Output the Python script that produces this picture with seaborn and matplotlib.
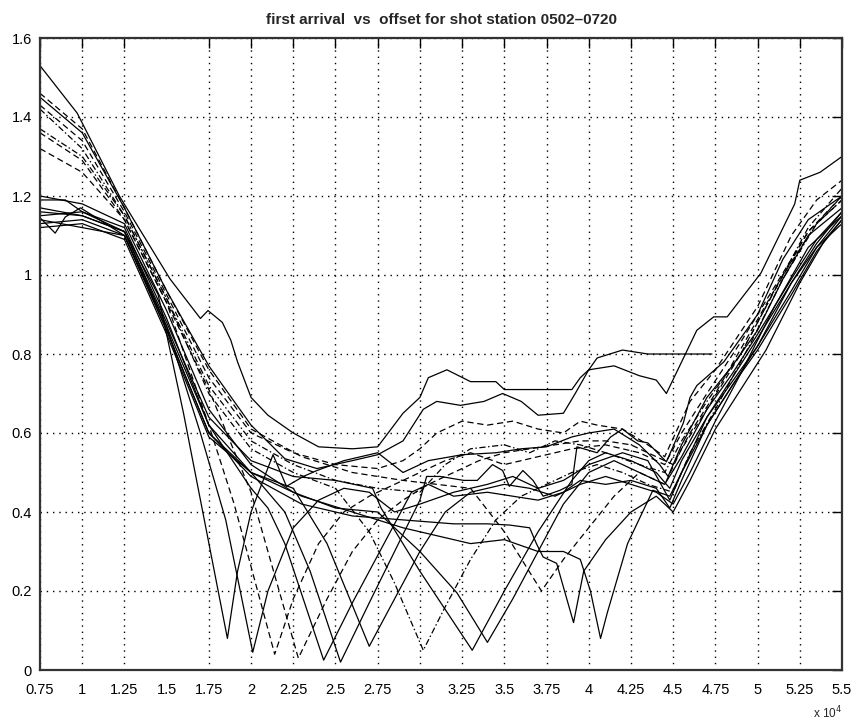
import pandas as pd
import matplotlib
matplotlib.use('Agg')
import matplotlib.pyplot as plt
import seaborn as sns

# first-arrival picks, offset in units of 1e4, time in s
shot_01 = [(0.75, 1.53), (0.97, 1.41), (1.22, 1.20), (1.52, 0.99), (1.70, 0.89), (1.745, 0.91), (1.83, 0.88),
           (1.88, 0.835), (1.92, 0.78), (2.0, 0.69), (2.1, 0.645), (2.25, 0.60), (2.4, 0.565), (2.6, 0.56),
           (2.75, 0.565), (2.9, 0.65), (3.0, 0.69), (3.05, 0.74), (3.16, 0.76), (3.3, 0.73), (3.45, 0.73),
           (3.5, 0.71), (3.9, 0.71), (3.95, 0.74), (4.0, 0.76), (4.05, 0.79), (4.2, 0.81), (4.35, 0.80),
           (4.55, 0.80), (4.73, 0.80)]
shot_02 = [(0.75, 1.45), (1.0, 1.36), (1.25, 1.17), (1.5, 0.96), (1.75, 0.77), (2.0, 0.62), (2.2, 0.535),
           (2.39, 0.51), (2.6, 0.53), (2.75, 0.545), (2.9, 0.58), (3.02, 0.66), (3.1, 0.68), (3.24, 0.67),
           (3.38, 0.68), (3.49, 0.70), (3.6, 0.68), (3.7, 0.645), (3.85, 0.65), (3.92, 0.70), (4.0, 0.76),
           (4.15, 0.77), (4.3, 0.745), (4.40, 0.734), (4.46, 0.70), (4.64, 0.86), (4.74, 0.894), (4.82, 0.894),
           (5.02, 1.005), (5.22, 1.18), (5.25, 1.24), (5.37, 1.26), (5.5, 1.30)]
shot_03 = [(0.75, 1.43), (1.0, 1.34), (1.25, 1.16), (1.5, 0.95), (1.75, 0.74), (2.0, 0.60), (2.25, 0.55),
           (2.5, 0.52), (2.75, 0.51), (2.9, 0.53), (3.0, 0.56), (3.1, 0.60), (3.25, 0.63), (3.4, 0.62),
           (3.55, 0.63), (3.7, 0.61), (3.85, 0.60), (3.95, 0.63), (4.05, 0.62), (4.2, 0.61), (4.35, 0.57),
           (4.45, 0.54), (4.6, 0.68), (4.75, 0.76), (5.0, 0.92), (5.2, 1.10), (5.35, 1.19), (5.5, 1.24)]
shot_04 = [(0.75, 1.37), (1.0, 1.30), (1.25, 1.15), (1.5, 0.94), (1.75, 0.72), (2.0, 0.58), (2.25, 0.52),
           (2.5, 0.48), (2.75, 0.46), (3.0, 0.45), (3.15, 0.52), (3.3, 0.56), (3.5, 0.57), (3.65, 0.55),
           (3.8, 0.58), (3.95, 0.57), (4.1, 0.55), (4.3, 0.52), (4.45, 0.50), (4.55, 0.58), (4.7, 0.68),
           (4.9, 0.80), (5.1, 0.96), (5.3, 1.12), (5.5, 1.22)]
shot_05 = [(0.75, 1.19), (0.9, 1.19), (1.0, 1.16), (1.25, 1.11), (1.45, 0.95), (1.6, 0.65), (1.86, 0.08),
           (1.92, 0.25), (2.0, 0.40), (2.13, 0.545), (2.21, 0.465), (2.31, 0.49), (2.39, 0.505), (2.55, 0.53),
           (2.75, 0.55), (2.9, 0.50), (3.05, 0.53), (3.25, 0.545), (3.45, 0.55), (3.6, 0.56), (3.75, 0.565),
           (3.9, 0.59), (4.0, 0.60), (4.15, 0.61), (4.3, 0.57), (4.42, 0.52), (4.47, 0.49), (4.55, 0.57),
           (4.7, 0.69), (4.85, 0.77), (5.0, 0.86), (5.15, 0.99), (5.3, 1.10), (5.5, 1.17)]
shot_06 = [(0.75, 1.145), (0.84, 1.106), (0.9, 1.147), (0.99, 1.17), (1.25, 1.10), (1.5, 0.87), (1.7, 0.60),
           (1.85, 0.38), (2.01, 0.045), (2.1, 0.20), (2.25, 0.36), (2.4, 0.43), (2.55, 0.46), (2.7, 0.45),
           (2.85, 0.40), (3.0, 0.42), (3.2, 0.45), (3.4, 0.47), (3.55, 0.49), (3.7, 0.46), (3.85, 0.48),
           (4.0, 0.52), (4.2, 0.55), (4.35, 0.53), (4.48, 0.43), (4.55, 0.50), (4.7, 0.64), (4.85, 0.74),
           (5.0, 0.84), (5.2, 0.98), (5.35, 1.08), (5.5, 1.16)]
shot_07 = [(0.75, 1.32), (1.0, 1.26), (1.25, 1.14), (1.5, 0.93), (1.75, 0.62), (1.9, 0.42), (2.14, 0.04),
           (2.25, 0.18), (2.4, 0.32), (2.55, 0.40), (2.7, 0.44), (2.85, 0.47), (3.0, 0.50), (3.15, 0.53),
           (3.3, 0.55), (3.5, 0.52), (3.7, 0.54), (3.9, 0.56), (4.1, 0.57), (4.3, 0.55), (4.45, 0.52),
           (4.55, 0.60), (4.7, 0.70), (4.9, 0.83), (5.1, 0.97), (5.3, 1.11), (5.5, 1.20)]
shot_08 = [(0.75, 1.15), (1.0, 1.16), (1.25, 1.12), (1.5, 0.89), (1.75, 0.62), (2.0, 0.46), (2.1, 0.41),
           (2.2, 0.32), (2.43, 0.025), (2.6, 0.17), (2.8, 0.33), (2.95, 0.45), (3.05, 0.47), (3.2, 0.44),
           (3.4, 0.45), (3.55, 0.44), (3.7, 0.43), (3.85, 0.45), (3.95, 0.48), (4.1, 0.47), (4.25, 0.48),
           (4.4, 0.46), (4.48, 0.41), (4.55, 0.48), (4.7, 0.62), (4.85, 0.72), (5.0, 0.81), (5.2, 0.95),
           (5.35, 1.06), (5.5, 1.14)]
shot_09 = [(0.75, 1.13), (1.0, 1.14), (1.25, 1.10), (1.5, 0.86), (1.75, 0.60), (2.0, 0.50), (2.2, 0.40),
           (2.35, 0.25), (2.53, 0.02), (2.7, 0.17), (2.85, 0.30), (3.0, 0.43), (3.04, 0.49), (3.12, 0.49),
           (3.26, 0.48), (3.34, 0.48), (3.43, 0.52), (3.49, 0.505), (3.53, 0.465), (3.61, 0.505), (3.67, 0.48),
           (3.73, 0.44), (3.83, 0.455), (3.90, 0.47), (3.93, 0.565), (4.05, 0.55), (4.13, 0.59), (4.20, 0.61),
           (4.29, 0.58), (4.35, 0.575), (4.46, 0.527), (4.56, 0.625), (4.60, 0.69), (4.64, 0.72), (4.8, 0.78),
           (5.0, 0.90), (5.15, 1.04), (5.3, 1.14), (5.5, 1.20)]
shot_10 = [(0.75, 1.12), (1.0, 1.13), (1.25, 1.09), (1.5, 0.85), (1.75, 0.59), (2.0, 0.50), (2.25, 0.46),
           (2.45, 0.32), (2.70, 0.06), (2.85, 0.18), (3.0, 0.30), (3.15, 0.40), (3.3, 0.45), (3.5, 0.47),
           (3.65, 0.46), (3.8, 0.44), (3.95, 0.47), (4.1, 0.49), (4.25, 0.47), (4.4, 0.45), (4.5, 0.42),
           (4.6, 0.50), (4.75, 0.63), (4.9, 0.75), (5.1, 0.92), (5.3, 1.07), (5.5, 1.15)]
shot_11 = [(0.75, 1.42), (1.0, 1.32), (1.25, 1.15), (1.5, 0.94), (1.75, 0.70), (2.0, 0.56), (2.25, 0.50),
           (2.5, 0.46), (2.7, 0.35), (2.85, 0.22), (3.02, 0.05), (3.15, 0.16), (3.3, 0.28), (3.45, 0.38),
           (3.6, 0.44), (3.75, 0.47), (3.9, 0.50), (4.05, 0.52), (4.2, 0.50), (4.35, 0.47), (4.5, 0.45),
           (4.6, 0.55), (4.75, 0.66), (4.95, 0.82), (5.15, 0.99), (5.35, 1.13), (5.5, 1.19)]
shot_12 = [(0.75, 1.17), (1.0, 1.15), (1.25, 1.11), (1.5, 0.88), (1.75, 0.64), (2.0, 0.53), (2.25, 0.49),
           (2.5, 0.48), (2.72, 0.46), (2.77, 0.41), (3.0, 0.25), (3.31, 0.05), (3.5, 0.20), (3.7, 0.35),
           (3.9, 0.48), (4.0, 0.53), (4.1, 0.55), (4.25, 0.53), (4.4, 0.50), (4.48, 0.46), (4.55, 0.53),
           (4.7, 0.64), (4.85, 0.73), (5.0, 0.82), (5.2, 0.96), (5.35, 1.07), (5.5, 1.15)]
shot_13 = [(0.75, 1.20), (1.0, 1.18), (1.25, 1.13), (1.5, 0.91), (1.75, 0.66), (2.0, 0.52), (2.25, 0.45),
           (2.5, 0.41), (2.75, 0.40), (3.0, 0.30), (3.22, 0.195), (3.40, 0.07), (3.55, 0.18), (3.7, 0.30),
           (3.85, 0.42), (4.0, 0.50), (4.15, 0.53), (4.3, 0.50), (4.45, 0.47), (4.55, 0.54), (4.7, 0.66),
           (4.85, 0.75), (5.0, 0.85), (5.2, 0.99), (5.35, 1.09), (5.5, 1.16)]
shot_14 = [(0.75, 1.46), (1.0, 1.37), (1.25, 1.17), (1.5, 0.96), (1.75, 0.76), (2.0, 0.61), (2.3, 0.54),
           (2.6, 0.50), (2.9, 0.48), (3.1, 0.47), (3.3, 0.46), (3.5, 0.35), (3.72, 0.20), (3.85, 0.28),
           (4.0, 0.36), (4.15, 0.44), (4.3, 0.50), (4.45, 0.47), (4.55, 0.56), (4.7, 0.66), (4.9, 0.80),
           (5.1, 0.96), (5.3, 1.11), (5.5, 1.19)]
shot_15 = [(0.75, 1.14), (1.0, 1.12), (1.25, 1.10), (1.5, 0.86), (1.75, 0.60), (2.0, 0.49), (2.3, 0.42),
           (2.6, 0.39), (2.9, 0.38), (3.2, 0.37), (3.4, 0.37), (3.53, 0.367), (3.65, 0.36), (3.69, 0.32),
           (3.73, 0.286), (3.81, 0.27), (3.91, 0.12), (3.97, 0.25), (4.1, 0.33), (4.25, 0.40), (4.4, 0.44),
           (4.5, 0.40), (4.6, 0.48), (4.75, 0.61), (4.9, 0.71), (5.05, 0.81), (5.25, 0.98), (5.4, 1.09),
           (5.5, 1.14)]
shot_16 = [(0.75, 1.16), (1.0, 1.15), (1.25, 1.11), (1.5, 0.87), (1.75, 0.62), (2.0, 0.50), (2.3, 0.44),
           (2.6, 0.40), (2.9, 0.36), (3.1, 0.34), (3.3, 0.32), (3.5, 0.33), (3.7, 0.30), (3.85, 0.30),
           (3.95, 0.28), (4.01, 0.20), (4.07, 0.08), (4.11, 0.145), (4.23, 0.32), (4.38, 0.455), (4.48, 0.44),
           (4.55, 0.50), (4.7, 0.62), (4.85, 0.72), (5.0, 0.82), (5.2, 0.98), (5.35, 1.07), (5.5, 1.13)]
shot_17 = [(0.75, 1.36), (1.0, 1.29), (1.25, 1.14), (1.5, 0.93), (1.75, 0.71), (2.0, 0.45), (2.1, 0.30),
           (2.28, 0.03), (2.45, 0.18), (2.6, 0.30), (2.75, 0.38), (2.9, 0.43), (3.05, 0.47), (3.2, 0.50),
           (3.35, 0.53), (3.5, 0.55), (3.65, 0.56), (3.8, 0.57), (3.95, 0.58), (4.1, 0.58), (4.25, 0.57),
           (4.4, 0.54), (4.5, 0.52), (4.6, 0.60), (4.75, 0.70), (4.95, 0.85), (5.15, 1.00), (5.35, 1.13),
           (5.5, 1.20)]

shots = {'01': shot_01, '02': shot_02, '03': shot_03, '04': shot_04, '05': shot_05, '06': shot_06,
         '07': shot_07, '08': shot_08, '09': shot_09, '10': shot_10, '11': shot_11, '12': shot_12,
         '13': shot_13, '14': shot_14, '15': shot_15, '16': shot_16, '17': shot_17}
line_kind = {'01': 'solid', '02': 'solid', '03': 'dash', '04': 'dashdot', '05': 'solid', '06': 'solid',
             '07': 'dash', '08': 'solid', '09': 'solid', '10': 'solid', '11': 'dashdot', '12': 'solid',
             '13': 'solid', '14': 'dash', '15': 'solid', '16': 'solid', '17': 'dash'}

x_ticks = [0.75, 1, 1.25, 1.75, 2, 2.25, 2.5, 2.75, 3, 3.25, 3.5, 3.75, 4, 4.25, 4.5, 4.75, 5, 5.25, 5.5]
x_labels = ['0.75', '1', '1.25', '1.75', '2', '2.25', '2.5', '2.75', '3', '3.25', '3.5', '3.75', '4',
            '4.25', '4.5', '4.75', '5', '5.25', '5.5']
y_ticks = [0, 0.2, 0.4, 0.6, 0.8, 1.0, 1.2, 1.4, 1.6]
y_labels = ['0', '0.2', '0.4', '0.6', '0.8', '1', '1.2', '1.4', '1.6']

rows = []
for name, pts in shots.items():
    for i, (x, y) in enumerate(pts):
        rows.append({'shot': name, 'order': i, 'offset': x, 'time': y})
df = pd.DataFrame(rows)

sns.set_theme(style='white')
plt.rcParams['font.family'] = ['Liberation Sans', 'DejaVu Sans']

dash_spec = {'solid': '', 'dash': (5, 3), 'dashdot': (5, 2, 1.2, 2)}
shot_dashes = {k: dash_spec[v] for k, v in line_kind.items()}

fig = plt.figure(figsize=(8.56, 7.23), dpi=100)
ax = fig.add_axes([40 / 856, 53 / 723, 802 / 856, 632 / 723])

sns.lineplot(data=df, x='offset', y='time', units='shot', estimator=None, style='shot',
             dashes=shot_dashes, color='black', linewidth=0.9, sort=False, legend=False, ax=ax)

ax.set_xlim(0.75, 5.5)
ax.set_ylim(0, 1.6)
ax.set_xticks(x_ticks, x_labels)
# the 1.5 position carries a label but no tick mark or grid line
ax.set_xticks([1.5], ['1.5'], minor=True)
ax.set_yticks(y_ticks, y_labels)
ax.tick_params(which='major', direction='in', length=7, width=1, top=True, right=True,
               labelsize=10.5, colors='black')
ax.tick_params(axis='x', which='both', pad=9, labelcolor='black')
ax.tick_params(axis='y', which='major', pad=6)
ax.tick_params(which='minor', length=0, labelsize=10.5)
ax.grid(True, which='major', color='black', linestyle=(0, (1, 3.5)), linewidth=1.0)
ax.set_axisbelow(True)
for s in ax.spines.values():
    s.set_linewidth(1.6)
    s.set_color('#333333')
    s.set_visible(True)

ax.set_xlabel('')
ax.set_ylabel('')
ax.set_title('first arrival  vs  offset for shot station 0502\u20130720', fontsize=11,
             fontweight='bold', pad=10)
fig.text(828 / 856, 1 - 713 / 723, r'x 10$^4$', ha='center', va='center', fontsize=8.5)

fig.savefig('out.png', dpi=100)
